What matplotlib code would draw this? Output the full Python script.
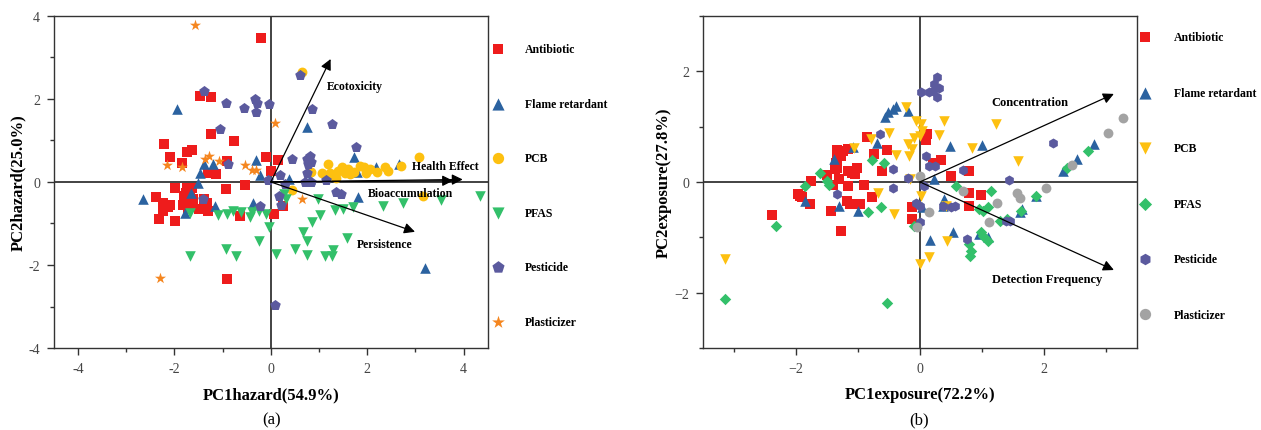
import numpy as np
import matplotlib
matplotlib.use('Agg')
import matplotlib.pyplot as plt
from matplotlib.ticker import MultipleLocator, FuncFormatter

# Scores, (PC1, PC2)
antibiotic_hazard = [(-0.21, 3.47), (-1.46, 2.07), (-1.24, 2.05), (-1.25, 1.16), (-0.77, 0.99), (-2.22, 0.91),
                     (-2.10, 0.60), (-1.75, 0.71), (-1.63, 0.76), (-1.85, 0.45), (-0.91, 0.51), (-0.10, 0.59),
                     (0.15, 0.52), (-1.31, 0.22), (-1.14, 0.19), (0.01, 0.27), (-1.98, -0.14), (-1.75, -0.14),
                     (-1.63, -0.14), (-1.68, -0.23), (-1.76, -0.26), (-2.39, -0.37), (-2.23, -0.51), (-2.10, -0.55),
                     (-1.75, -0.51), (-1.66, -0.55), (-1.39, -0.40), (-1.32, -0.50), (-1.49, -0.64), (-1.31, -0.71),
                     (-0.93, -0.16), (-0.53, -0.07), (-2.32, -0.88), (-1.99, -0.95), (-2.23, -0.70), (-2.13, -0.60),
                     (-1.83, -0.55), (-1.71, -0.62), (-1.50, -0.66), (-0.63, -0.83), (-0.91, -2.34), (0.06, -0.78),
                     (0.26, -0.57), (-1.80, -0.35), (-1.62, -0.40)]
flame_hazard = [(-1.94, 1.75), (0.76, 1.33), (-0.31, 0.52), (-0.23, 0.17), (-1.47, 0.22), (-1.38, 0.43),
                (-1.20, 0.43), (-1.51, -0.02), (-1.66, -0.26), (-2.65, -0.42), (-1.78, -0.74), (-1.16, -0.58),
                (-0.37, -0.51), (0.37, 0.06), (1.73, 0.59), (1.78, 0.25), (2.19, 0.35), (2.66, 0.43),
                (1.80, -0.36), (3.19, -2.08), (0.82, 0.06)]
pcb_hazard = [(0.64, 2.65), (0.81, 0.25), (0.84, 0.24), (1.06, 0.22), (1.19, 0.44), (1.22, 0.22), (1.30, 0.15),
              (1.36, 0.10), (1.40, 0.27), (1.47, 0.35), (1.54, 0.22), (1.60, 0.31), (1.65, 0.18), (1.72, 0.25),
              (1.85, 0.39), (1.94, 0.35), (1.97, 0.22), (2.05, 0.30), (2.36, 0.35), (2.42, 0.27), (2.71, 0.39),
              (3.08, 0.60), (0.44, -0.20), (3.16, -0.34), (2.20, 0.25)]
pfas_hazard = [(-1.67, -1.78), (-0.93, -1.61), (-0.73, -1.78), (-0.24, -1.41), (-0.03, -1.09), (0.10, -1.73),
               (0.50, -1.61), (0.66, -1.21), (0.74, -1.42), (0.74, -1.75), (1.12, -1.79), (1.26, -1.79),
               (1.29, -1.63), (0.86, -0.96), (1.02, -0.80), (1.57, -1.35), (1.33, -0.67), (1.50, -0.65),
               (1.71, -0.60), (2.32, -0.57), (2.75, -0.50), (3.54, -0.44), (4.33, -0.35), (0.98, -0.40),
               (0.28, -0.30), (0.32, -0.42), (-1.68, -0.75), (-0.92, -0.77), (-0.78, -0.69), (-0.61, -0.73),
               (-0.44, -0.85), (-0.40, -0.73), (-0.11, -0.77), (-1.10, -0.80), (-0.25, -0.70)]
pesticide_hazard = [(-1.38, 2.18), (-0.93, 1.89), (-0.55, 1.78), (-0.33, 1.99), (-0.28, 1.91), (-0.31, 1.69),
                    (-0.03, 1.87), (-1.06, 1.27), (-0.89, 0.43), (0.43, 0.55), (0.60, 2.58), (0.86, 1.75),
                    (1.27, 1.39), (1.76, 0.85), (0.74, 0.55), (0.81, 0.63), (0.84, 0.47), (0.77, 0.43),
                    (0.74, 0.22), (0.70, 0.00), (0.84, 0.00), (1.15, 0.04), (1.36, -0.24), (1.45, -0.30),
                    (0.19, 0.16), (0.29, -0.06), (0.22, -0.55), (-0.23, -0.58), (-1.40, -0.42), (-0.06, 0.05),
                    (0.17, -0.33), (0.08, -2.96)]
plasticizer_hazard = [(-1.57, 3.78), (0.08, 1.41), (-2.16, 0.40), (-1.85, 0.36), (-1.37, 0.56), (-1.29, 0.63),
                      (-1.08, 0.51), (-0.54, 0.40), (-0.39, 0.28), (-0.31, 0.28), (0.64, -0.40), (-2.29, -2.31)]

antibiotic_exposure = [(-2.38, -0.60), (-1.28, -0.89), (-1.96, -0.22), (-1.93, -0.25), (-1.90, -0.28),
                       (-1.78, -0.40), (-1.76, 0.02), (-1.50, 0.12), (-1.43, -0.52), (-1.30, 0.06), (-1.16, -0.08),
                       (-1.18, -0.35), (-1.12, -0.40), (-0.97, -0.40), (-0.90, -0.06), (-0.77, -0.27), (-0.61, 0.20),
                       (-0.53, 0.58), (-0.85, 0.82), (-0.74, 0.51), (-1.33, 0.57), (-1.30, 0.50), (-1.27, 0.46),
                       (-1.33, 0.40), (-1.35, 0.35), (-1.34, 0.26), (-1.37, 0.23), (-1.16, 0.20), (-1.09, 0.17),
                       (-1.01, 0.25), (-1.05, 0.14), (-1.16, 0.59), (-1.24, 0.55), (-0.12, -0.46), (-0.12, -0.67),
                       (0.11, 0.86), (0.10, 0.75), (0.21, 0.35), (0.34, 0.40), (0.50, 0.10), (0.79, 0.19),
                       (0.80, -0.20), (0.98, -0.23), (0.80, -0.43), (-1.40, -0.05)]
flame_exposure = [(-0.39, 1.38), (-0.44, 1.32), (-0.52, 1.27), (-0.57, 1.17), (-0.19, 1.29), (-1.08, 0.64),
                  (-1.38, 0.41), (-0.70, 0.71), (0.48, 0.65), (1.00, 0.67), (2.31, 0.19), (2.54, 0.41),
                  (2.81, 0.68), (-1.31, -0.43), (-1.00, -0.53), (-1.86, -0.34), (0.23, 0.05), (0.04, -0.46),
                  (0.39, -0.31), (0.38, -0.43), (0.53, -0.91), (0.17, -1.05), (0.95, -0.94), (1.10, -1.00),
                  (1.64, -0.49), (1.88, -0.25), (1.61, -0.54)]
pcb_exposure = [(-0.22, 1.36), (-0.06, 1.10), (0.02, 1.05), (0.04, 0.92), (0.00, 0.83), (0.39, 1.10),
                (1.23, 1.05), (-0.50, 0.88), (-0.79, 0.77), (-0.09, 0.80), (-0.20, 0.68), (-0.12, 0.59),
                (-0.17, 0.47), (0.31, 0.85), (0.84, 0.61), (-0.39, 0.49), (-1.06, 0.62), (-0.16, 0.05),
                (1.58, 0.38), (-0.68, -0.20), (-0.41, -0.58), (0.02, -0.25), (0.42, -0.43), (0.43, -1.06),
                (0.15, -1.35), (0.00, -1.48), (-3.15, -1.39)]
pfas_exposure = [(-2.33, -0.79), (-0.53, -2.18), (-3.15, -2.11), (-1.85, -0.07), (-1.62, 0.17), (-1.50, 0.02),
                 (-1.47, -0.05), (-0.77, 0.40), (-0.58, 0.34), (-0.84, -0.55), (-0.62, -0.46), (-0.09, -0.79),
                 (0.58, -0.08), (1.15, -0.16), (0.96, -0.49), (1.02, -0.52), (1.10, -0.46), (1.30, -0.71),
                 (1.41, -0.67), (0.99, -0.91), (1.02, -0.97), (1.10, -1.06), (0.80, -1.12), (0.83, -1.24),
                 (0.81, -1.34), (1.63, -0.52), (1.87, -0.26), (2.38, 0.25), (2.71, 0.55)]
pesticide_exposure = [(0.28, 1.90), (0.22, 1.77), (0.21, 1.65), (0.31, 1.69), (0.15, 1.62), (0.28, 1.54),
                      (0.01, 1.63), (-0.64, 0.86), (-0.44, 0.23), (-1.33, -0.22), (-0.43, -0.11), (-0.20, 0.07),
                      (0.10, 0.47), (0.15, 0.29), (0.24, 0.28), (0.07, -0.07), (0.69, 0.22), (1.43, 0.04),
                      (2.15, 0.71), (-0.06, -0.38), (0.00, -0.43), (0.00, -0.73), (0.38, -0.44), (0.50, -0.46),
                      (0.56, -0.43), (0.76, -1.03), (1.39, -0.71), (1.45, -0.70)]
plasticizer_exposure = [(3.28, 1.15), (3.04, 0.88), (2.45, 0.30), (2.03, -0.11), (1.56, -0.20), (1.61, -0.29),
                        (1.24, -0.38), (0.69, -0.17), (0.00, 0.10), (0.14, -0.55), (1.11, -0.72), (-0.04, -0.82)]

# Loadings (arrow tips) and where their labels sit
hazard_vectors = [('Ecotoxicity', (1.24, 2.96), (1.16, 2.31)),
                  ('Health Effect', (3.98, 0.06), (2.93, 0.39)),
                  ('Bioaccumulation', (3.78, 0.03), (2.01, -0.27)),
                  ('Persistence', (2.99, -1.20), (1.78, -1.49))]
exposure_vectors = [('Concentration', (3.13, 1.59), (1.15, 1.44)),
                    ('Detection Frequency', (3.13, -1.59), (1.17, -1.75))]

CLASSES = ['Antibiotic', 'Flame retardant', 'PCB', 'PFAS', 'Pesticide', 'Plasticizer']
SERIF = 'Liberation Serif'

hazard_styles = [('#ee1c1c', 's', 42), ('#2b62a0', '^', 58), ('#fdc010', 'o', 50),
                 ('#33c06a', 'v', 58), ('#5b5a9e', 'p', 64), ('#f5861f', '*', 70)]
exposure_styles = [('#ee1c1c', 's', 42), ('#2b62a0', '^', 58), ('#fdc010', 'v', 58),
                   ('#33c06a', 'D', 34), ('#5b5a9e', 'h', 52), ('#a3a3a3', 'o', 50)]


def draw_panel(ax, groups, styles, vectors, lims, xlabel, ylabel, minus, label_size):
    for name, pts, (color, marker, size) in zip(CLASSES, groups, styles):
        arr = np.array(pts)
        ax.scatter(arr[:, 0], arr[:, 1], s=size, c=color, marker=marker, linewidths=0, label=name, zorder=3)

    ax.axhline(0, color='#222222', lw=1.2, zorder=2)
    ax.axvline(0, color='#222222', lw=1.2, zorder=2)

    for text, tip, pos in vectors:
        ax.annotate('', xy=tip, xytext=(0, 0),
                    arrowprops=dict(arrowstyle='-|>', color='black', lw=0.9, mutation_scale=16,
                                    shrinkA=0, shrinkB=0), zorder=4)
        ax.text(pos[0], pos[1], text, fontsize=label_size, fontweight='bold', family=SERIF,
                va='center', ha='left', zorder=5)

    ax.set_xlim(lims[0])
    ax.set_ylim(lims[1])
    ax.xaxis.set_major_locator(MultipleLocator(2))
    ax.xaxis.set_minor_locator(MultipleLocator(1))
    ax.yaxis.set_major_locator(MultipleLocator(2))
    ax.yaxis.set_minor_locator(MultipleLocator(1))
    fmt = FuncFormatter(lambda v, p: f"{v:g}".replace('-', minus))
    ax.xaxis.set_major_formatter(fmt)
    ax.yaxis.set_major_formatter(fmt)
    ax.tick_params(which='major', direction='out', length=5, width=1, colors='#333333',
                   labelsize=10, labelcolor='#444444', pad=5)
    ax.tick_params(which='minor', direction='out', length=3, width=1, colors='#333333')
    for lab in ax.get_xticklabels() + ax.get_yticklabels():
        lab.set_family(SERIF)
    for sp in ax.spines.values():
        sp.set_color('#333333')
        sp.set_linewidth(1.0)

    ax.set_xlabel(xlabel, fontsize=12, fontweight='bold', family=SERIF, labelpad=8)
    ax.set_ylabel(ylabel, fontsize=12, fontweight='bold', family=SERIF, labelpad=2)


def main():
    fig = plt.figure(figsize=(12.61, 4.31), dpi=100)
    ax_a = fig.add_axes([0.0428, 0.190, 0.344, 0.771])
    ax_b = fig.add_axes([0.5575, 0.190, 0.344, 0.771])

    draw_panel(ax_a, [antibiotic_hazard, flame_hazard, pcb_hazard, pfas_hazard, pesticide_hazard, plasticizer_hazard],
               hazard_styles, hazard_vectors, ((-4.5, 4.5), (-4, 4)),
               'PC1hazard(54.9%)', 'PC2hazard(25.0%)', '-', 8.5)
    draw_panel(ax_b, [antibiotic_exposure, flame_exposure, pcb_exposure, pfas_exposure, pesticide_exposure,
                      plasticizer_exposure],
               exposure_styles, exposure_vectors, ((-3.5, 3.5), (-3, 3)),
               'PC1exposure(72.2%)', 'PC2exposure(27.8%)', '\u2212', 9)

    legend_font = {'family': SERIF, 'weight': 'bold', 'size': 8.5}
    for ax, anchor, pad, spacing in [(ax_a, (0.3905, 0.897), 1.75, 3.6), (ax_b, (0.903, 0.925), 1.95, 3.68)]:
        handles, labels = ax.get_legend_handles_labels()
        fig.legend(handles, labels, loc='upper left', bbox_to_anchor=anchor, frameon=False,
                   prop=legend_font, labelspacing=spacing, handlelength=1.0, handletextpad=pad,
                   borderpad=0, borderaxespad=0, scatterpoints=1, markerscale=1.15)

    fig.text(0.215, 0.0255, '(a)', fontsize=12, family=SERIF, ha='center', va='center')
    fig.text(0.729, 0.0255, '(b)', fontsize=12, family=SERIF, ha='center', va='center')

    fig.savefig('out.png', dpi=100)
    plt.close(fig)


if __name__ == "__main__":
    main()
